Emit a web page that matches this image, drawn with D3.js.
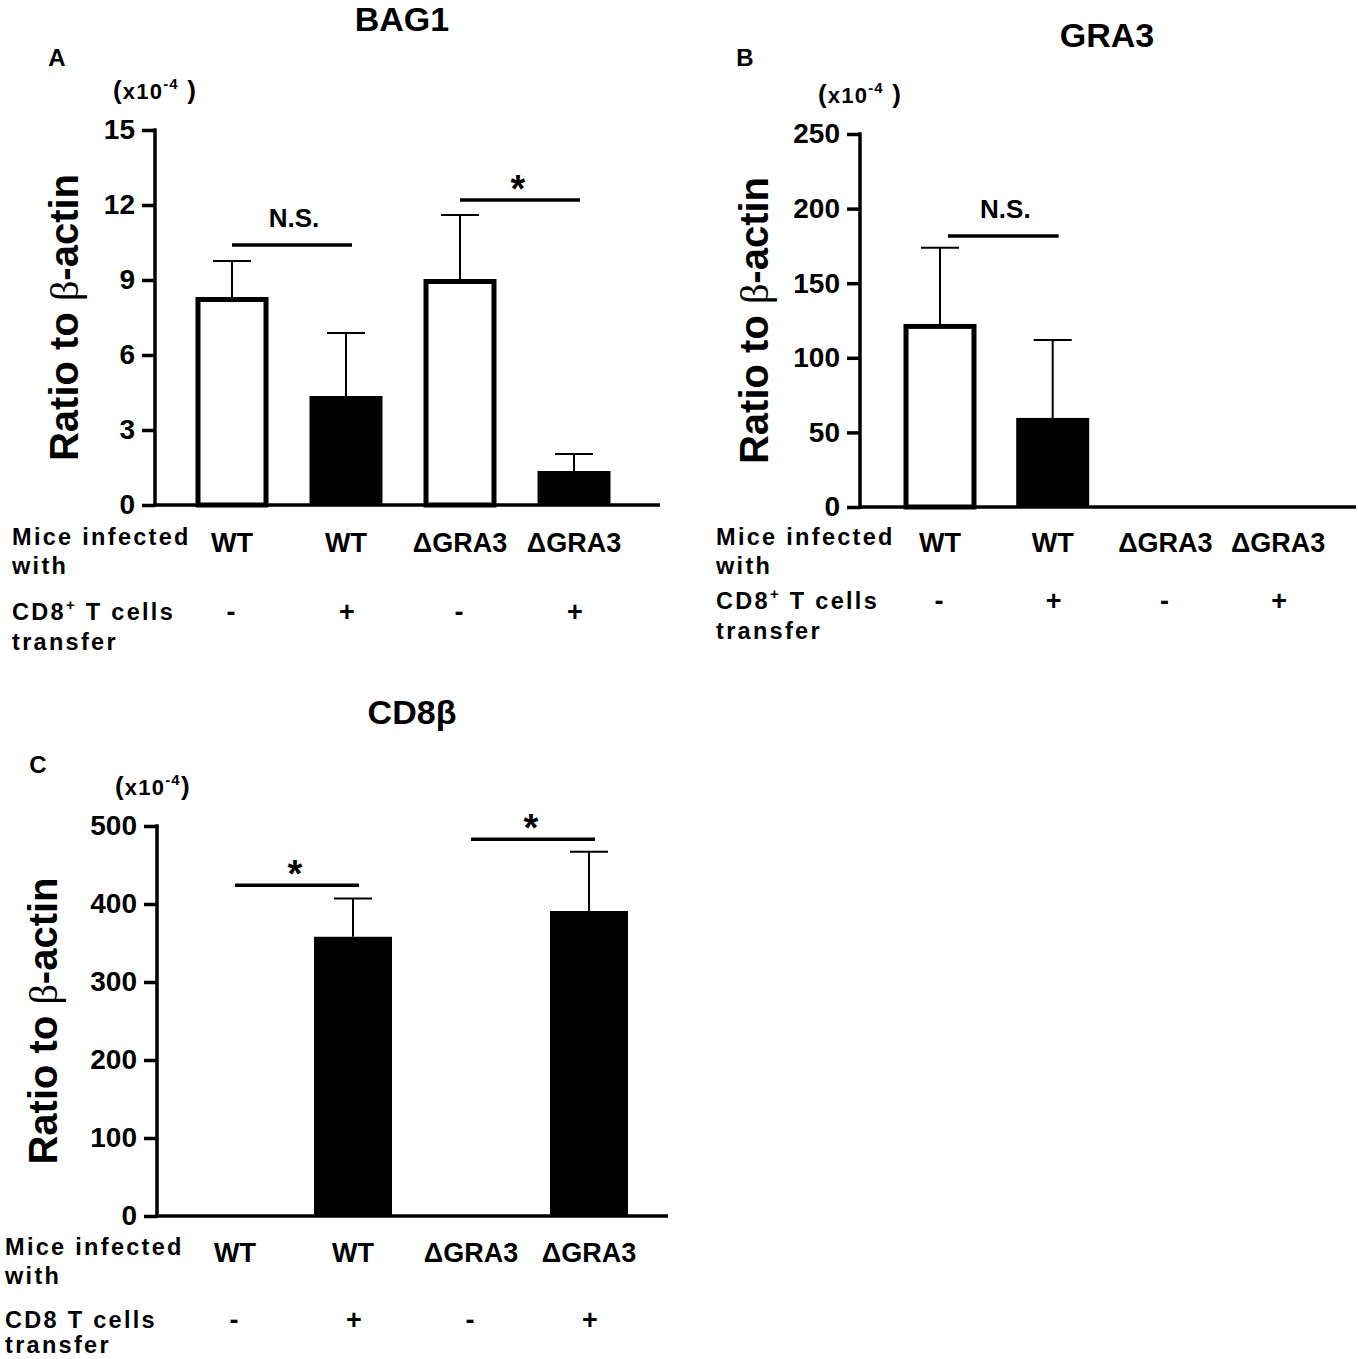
<!DOCTYPE html>
<html>
<head>
<meta charset="utf-8">
<script src="https://cdn.jsdelivr.net/npm/d3@7"></script>
<style>
  body { margin: 0; background: #fff; }
  svg text { font-family: "Liberation Sans", Arial, sans-serif; font-weight: bold; fill: #000; }
</style>
</head>
<body>
<script>
// groups along the x axis (same for all three panels)
const infectedWith = ["WT", "WT", "\u0394GRA3", "\u0394GRA3"];
const cd8Transfer = ["-", "+", "-", "+"];

// BAG1 (x10^-4)
const bag1Ticks = [0, 3, 6, 9, 12, 15];
const bag1Mean = [8.32, 4.36, 9.04, 1.36];
const bag1Err = [1.44, 2.52, 2.56, 0.68];
const bag1Sig = [
  { a: 0, b: 1, level: 10.4, label: "N.S." },
  { a: 2, b: 3, level: 12.2, label: "*" }
];

// GRA3 (x10^-4)
const gra3Ticks = [0, 50, 100, 150, 200, 250];
const gra3Mean = [122.7, 59.7, 0, 0];
const gra3Err = [51, 52.3, 0, 0];
const gra3Sig = [
  { a: 0, b: 1, level: 181.6, label: "N.S." }
];

// CD8beta (x10^-4)
const cd8Ticks = [0, 100, 200, 300, 400, 500];
const cd8Mean = [0, 358, 0, 391];
const cd8Err = [0, 49, 0, 76];
const cd8Sig = [
  { a: 0, b: 1, level: 424, label: "*" },
  { a: 2, b: 3, level: 483, label: "*" }
];

const W = 1358, H = 1359;
const svg = d3.select("body").append("svg")
  .attr("width", W)
  .attr("height", H);

function drawPanel(p) {
  const g = svg.append("g");

  const y = d3.scaleLinear()
    .domain([0, d3.max(p.ticks)])
    .range([p.y0, p.y1]);

  const idx = d3.range(infectedWith.length);
  const x = d3.scaleBand()
    .domain(idx)
    .range([p.c0 - p.step / 2, p.c0 - p.step / 2 + p.step * idx.length]);
  const cx = i => x(i) + x.bandwidth() / 2;

  // error bars (upper only)
  const eb = g.append("g").attr("class", "errors");
  idx.filter(i => p.err[i] > 0).forEach(i => {
    eb.append("line")
      .attr("x1", cx(i)).attr("x2", cx(i))
      .attr("y1", y(p.mean[i])).attr("y2", y(p.mean[i] + p.err[i]))
      .attr("stroke", "#000").attr("stroke-width", 2);
    eb.append("line")
      .attr("x1", cx(i) - 19).attr("x2", cx(i) + 19)
      .attr("y1", y(p.mean[i] + p.err[i])).attr("y2", y(p.mean[i] + p.err[i]))
      .attr("stroke", "#000").attr("stroke-width", 2);
  });

  // bars: open for no transfer, filled for transfer
  g.append("g").selectAll("rect")
    .data(idx.filter(i => p.mean[i] > 0))
    .join("rect")
      .attr("x", i => cx(i) - p.barW / 2 + (cd8Transfer[i] === "-" ? 2.5 : 0))
      .attr("y", i => y(p.mean[i]) + (cd8Transfer[i] === "-" ? 2.5 : 0))
      .attr("width", i => p.barW - (cd8Transfer[i] === "-" ? 5 : 0))
      .attr("height", i => y(0) - y(p.mean[i]) - (cd8Transfer[i] === "-" ? 2.5 : 0))
      .attr("fill", i => cd8Transfer[i] === "-" ? "#fff" : "#000")
      .attr("stroke", "#000")
      .attr("stroke-width", i => cd8Transfer[i] === "-" ? 5 : 0);

  // y axis
  const yAxis = d3.axisLeft(y)
    .tickValues(p.ticks)
    .tickSize(13)
    .tickPadding(7)
    .tickSizeOuter(0);
  const ya = g.append("g")
    .attr("transform", `translate(${p.ax},0)`)
    .call(yAxis);
  ya.select(".domain").remove();
  ya.selectAll(".tick line").attr("stroke", "#000").attr("stroke-width", 3.5);
  ya.selectAll(".tick text")
    .attr("font-size", 28)
    .attr("font-family", null);
  ya.append("line")
    .attr("x1", 0).attr("x2", 0)
    .attr("y1", p.y1 - 1.75).attr("y2", p.y0 + 1.75)
    .attr("stroke", "#000").attr("stroke-width", 3.5);

  // x axis line
  g.append("line")
    .attr("x1", p.ax - 1.75).attr("x2", p.xEnd)
    .attr("y1", y(0)).attr("y2", y(0))
    .attr("stroke", "#000").attr("stroke-width", 3.5);

  // significance brackets
  p.sig.forEach(s => {
    const x1 = cx(s.a) + (s.dx1 || 0), x2 = cx(s.b) + 6;
    const star = s.label === "*";
    g.append("line")
      .attr("x1", x1).attr("x2", x2)
      .attr("y1", y(s.level)).attr("y2", y(s.level))
      .attr("stroke", "#000").attr("stroke-width", 3.5);
    g.append("text")
      .attr("x", (x1 + x2) / 2 + (star ? -2 : 2))
      .attr("y", y(s.level) - (star ? -2 : 18))
      .attr("text-anchor", "middle")
      .attr("font-size", star ? 38 : 26)
      .text(s.label);
  });

  // category rows
  idx.forEach(i => {
    g.append("text")
      .attr("x", cx(i)).attr("y", p.y0 + p.rowA)
      .attr("text-anchor", "middle")
      .attr("font-size", 27)
      .text(infectedWith[i]);
    g.append("text")
      .attr("x", cx(i) + (cd8Transfer[i] === "-" ? -1 : 1)).attr("y", p.y0 + p.rowB)
      .attr("text-anchor", "middle")
      .attr("dy", "0.35em")
      .attr("font-size", 27)
      .text(cd8Transfer[i]);
  });

  const rowLab = g.append("g").attr("font-size", 23.5).attr("letter-spacing", 2.3);
  rowLab.append("text").attr("x", p.lx).attr("y", p.y0 + p.rowA - 7).text("Mice infected");
  rowLab.append("text").attr("x", p.lx).attr("y", p.y0 + p.rowA + 22).text("with");
  const cd8 = rowLab.append("text").attr("x", p.lx).attr("y", p.y0 + p.rowB + 8);
  if (p.plus) {
    cd8.append("tspan").text("CD8");
    cd8.append("tspan").attr("font-size", 15).attr("dy", -10).text("+");
    cd8.append("tspan").attr("dy", 10).text(" T cells");
  } else {
    cd8.text("CD8 T cells");
  }
  rowLab.append("text").attr("x", p.lx).attr("y", p.y0 + p.rowB + p.lastGap).text("transfer");

  // y label
  const yl = g.append("text")
    .attr("transform", `translate(${p.ylx},${(p.y0 + p.y1) / 2}) rotate(-90)`)
    .attr("text-anchor", "middle")
    .attr("font-size", 40);
  yl.append("tspan").text("Ratio to ");
  yl.append("tspan").attr("font-weight", "normal").attr("font-family", "'Liberation Serif', serif").text("\u03b2");
  yl.append("tspan").text("-actin");

  // unit label
  const u = g.append("text")
    .attr("x", p.ax - 42).attr("y", p.y1 - 31)
    .attr("font-size", 22)
    .attr("letter-spacing", 1.2);
  u.append("tspan").attr("font-size", 26).text("(");
  u.append("tspan").text("x10");
  u.append("tspan").attr("font-size", 15).attr("dy", -10).text("-4");
  u.append("tspan").attr("dy", 10).attr("font-size", 26).text(p.unitGap + ")");

  // title and panel letter
  g.append("text")
    .attr("x", p.tx).attr("y", p.ty)
    .attr("text-anchor", "middle")
    .attr("font-size", 34)
    .text(p.title);
  g.append("text")
    .attr("x", p.px).attr("y", p.py)
    .attr("text-anchor", "middle")
    .attr("font-size", 24)
    .text(p.letter);
}

drawPanel({
  title: "BAG1", letter: "A", tx: 402, ty: 31, px: 57, py: 66,
  ticks: bag1Ticks, mean: bag1Mean, err: bag1Err, sig: bag1Sig,
  ax: 155, y0: 505, y1: 130, xEnd: 660,
  c0: 232, step: 114, barW: 73,
  rowA: 47, rowB: 107, lastGap: 38, lx: 12, ylx: 78, plus: true, unitGap: " "
});

drawPanel({
  title: "GRA3", letter: "B", tx: 1107, ty: 47, px: 745, py: 66,
  ticks: gra3Ticks, mean: gra3Mean, err: gra3Err,
  sig: gra3Sig.map(s => Object.assign({ dx1: 8 }, s)),
  ax: 860, y0: 507, y1: 134, xEnd: 1356,
  c0: 940, step: 112.7, barW: 73,
  rowA: 45, rowB: 94, lastGap: 38, lx: 716, ylx: 768, plus: true, unitGap: " "
});

drawPanel({
  title: "CD8\u03b2", letter: "C", tx: 412, ty: 724, px: 38, py: 773,
  ticks: cd8Ticks, mean: cd8Mean, err: cd8Err, sig: cd8Sig,
  ax: 157, y0: 1216, y1: 826, xEnd: 668,
  c0: 235, step: 118, barW: 78,
  rowA: 46, rowB: 104, lastGap: 33, lx: 5, ylx: 57, plus: false, unitGap: ""
});
</script>
</body>
</html>
